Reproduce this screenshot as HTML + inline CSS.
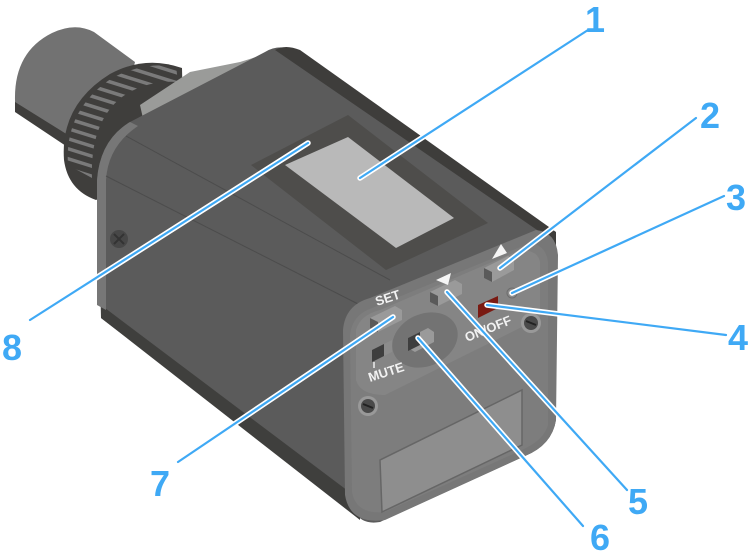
<!DOCTYPE html>
<html><head><meta charset="utf-8"><style>
html,body{margin:0;padding:0;background:#fff;width:755px;height:560px;overflow:hidden}
svg{display:block}
.n{font-family:"Liberation Sans",sans-serif;font-weight:bold;font-size:36px;fill:#3fa9f5}
.t{font-family:"Liberation Sans",sans-serif;font-weight:bold;font-size:13px;fill:#f2f2f2}
</style></head><body>
<svg width="755" height="560" viewBox="0 0 755 560" xmlns="http://www.w3.org/2000/svg">
<defs>
<clipPath id="band"><path d="M68,165 Q64,110 112,78 Q142,62 176,66 L178,82 Q146,80 122,97 Q90,122 92,178 Z"/></clipPath>
</defs>
<path d="M15,100 L15,112 L72,150 L80,130 Z" fill="#3f3e3c"/>
<path d="M15,100 Q14,52 52,33 Q75,22 94,32 L135,62 L115,142 L68,135 L15,102 Z" fill="#727272"/>
<path d="M64,160 Q60,105 110,74 Q145,55 182,68 L184,160 L96,200 Q68,190 64,160 Z" fill="#3f3e3c"/>
<g clip-path="url(#band)" stroke="#7a7a7a" stroke-width="3.5">
<line x1="40" y1="40" x2="200" y2="90"/><line x1="40" y1="50" x2="200" y2="100"/><line x1="40" y1="60" x2="200" y2="110"/>
<line x1="40" y1="70" x2="200" y2="120"/><line x1="40" y1="80" x2="200" y2="130"/><line x1="40" y1="90" x2="200" y2="140"/>
<line x1="40" y1="100" x2="200" y2="150"/><line x1="40" y1="110" x2="200" y2="160"/><line x1="40" y1="120" x2="200" y2="170"/>
<line x1="40" y1="130" x2="200" y2="180"/><line x1="40" y1="140" x2="200" y2="190"/><line x1="40" y1="150" x2="200" y2="200"/>
<line x1="40" y1="160" x2="200" y2="210"/><line x1="40" y1="30" x2="200" y2="80"/><line x1="40" y1="20" x2="200" y2="70"/>
</g>
<path d="M140,105 L190,72 L240,62 L285,48 L300,70 L150,150 Z" fill="#9a9b99"/>
<path d="M97,180 Q100,140 130,122 L265,52 Q278,44 295,50 L556,235 L556,420 Q552,445 525,456 L380,522 Q362,525 355,512 L101,318 Z" fill="#5b5b5b"/>
<path d="M275,50 Q285,44 300,50 L556,232 L556,248 L540,232 Z" fill="#3e3d3b"/>
<path d="M101,305 L360,500 L360,520 L101,318 Z" fill="#3f3f3d"/>
<path d="M97,180 Q100,140 130,122 L138,126 Q108,146 106,180 L106,310 L97,305 Z" fill="#777"/>
<line x1="106" y1="176" x2="362" y2="306" stroke="#4c4c4c" stroke-width="1"/>
<line x1="126" y1="136" x2="390" y2="280" stroke="#4c4c4c" stroke-width="1"/>
<circle cx="119" cy="239" r="9" fill="#474747"/><path d="M114,234 L124,244 M124,234 L114,244" stroke="#333" stroke-width="2"/>
<path d="M251,165 L348,115 L488,223 L386,270 Z" fill="#4e4d4b"/>
<path d="M285,165 L348,137 L454,218 L396,248 Z" fill="#b9b9b9"/>
<path d="M343,330 Q345,305 370,298 L536,230 Q556,232 558,255 L556,420 Q552,445 525,456 L385,520 Q350,525 345,495 Z" fill="#777777"/>
<path d="M350,335 Q352,315 372,308 L530,243 Q546,245 548,262 L548,425 Q544,440 522,450 L385,512 Q356,515 352,492 Z" fill="#7d7d7d"/>
<path d="M356,330 Q360,315 380,310 L520,250 Q538,250 540,262 L540,318 L385,395 Q360,395 356,380 Z" fill="#858585"/>
<ellipse cx="425" cy="340" rx="34" ry="26" transform="rotate(-25 425 340)" fill="#737373"/>
<path d="M380,460 L522,390 L522,445 L382,512 Z" fill="#8e8e8e" stroke="#666" stroke-width="1.5"/>
<circle cx="368" cy="406" r="10" fill="#999"/><circle cx="368" cy="406" r="7" fill="#4a4a4a"/><path d="M363,404 L373,408" stroke="#222" stroke-width="2"/>
<circle cx="531" cy="323" r="10" fill="#999"/><circle cx="531" cy="323" r="7" fill="#4a4a4a"/><path d="M526,321 L536,325" stroke="#222" stroke-width="2"/>
<path d="M370,318 L395,306 L402,310 L402,320 L378,332 L370,328 Z" fill="#9a9a9a"/><path d="M370,318 L378,322 L378,332 L370,328 Z" fill="#5a5a5a"/>
<path d="M430,292 L455,280 L462,284 L462,294 L438,306 L430,302 Z" fill="#9a9a9a"/><path d="M430,292 L438,296 L438,306 L430,302 Z" fill="#5a5a5a"/>
<path d="M484,268 L508,256 L514,260 L514,270 L492,282 L484,278 Z" fill="#9a9a9a"/><path d="M484,268 L492,272 L492,282 L484,278 Z" fill="#5a5a5a"/>
<path d="M408,338 L428,328 L434,332 L434,342 L415,352 L408,348 Z" fill="#9a9a9a"/><path d="M408,338 L420,332 L420,345 L408,351 Z" fill="#3e3e3e"/>
<path d="M478,305 L498,296 L498,308 L478,318 Z" fill="#7a1a12"/>
<path d="M372,350 L384,344 L384,356 L372,362 Z" fill="#3e3e3e"/><path d="M384,344 L392,340 L392,352 L384,356 Z" fill="#8c8c8c"/>
<circle cx="512" cy="293" r="5" fill="#8c8c8c" stroke="#6c6c6c"/>
<path d="M436,280 L451,273 L448,285 Z" fill="#f5f5f5"/>
<path d="M492,259 L507,253 L501,244 Z" fill="#f5f5f5"/>
<text class="t" transform="translate(377,306) rotate(-18)">SET</text>
<text class="t" transform="translate(370,382) rotate(-18)">MUTE</text>
<text class="t" transform="translate(467,342) rotate(-22)">ON/OFF</text>
<line x1="374" y1="362" x2="374" y2="368" stroke="#eee" stroke-width="1.5"/>
<g fill="none" stroke-linecap="round">
<g stroke="#fff" stroke-width="5.5">
<line x1="360" y1="178" x2="588" y2="30"/>
<line x1="308" y1="143" x2="30" y2="320"/>
<line x1="500" y1="268" x2="696" y2="118"/>
<line x1="512" y1="293" x2="724" y2="196"/>
<line x1="487" y1="305" x2="726" y2="335"/>
<line x1="447" y1="292" x2="627" y2="490"/>
<line x1="418" y1="338" x2="583" y2="526"/>
<line x1="393" y1="317" x2="178" y2="462"/>
</g>
<g stroke="#3fa9f5" stroke-width="2.2">
<line x1="360" y1="178" x2="588" y2="30"/>
<line x1="308" y1="143" x2="30" y2="320"/>
<line x1="500" y1="268" x2="696" y2="118"/>
<line x1="512" y1="293" x2="724" y2="196"/>
<line x1="487" y1="305" x2="726" y2="335"/>
<line x1="447" y1="292" x2="627" y2="490"/>
<line x1="418" y1="338" x2="583" y2="526"/>
<line x1="393" y1="317" x2="178" y2="462"/>
</g>
</g>
<text class="n" x="585" y="32">1</text>
<text class="n" x="700" y="128">2</text>
<text class="n" x="726" y="210">3</text>
<text class="n" x="728" y="350">4</text>
<text class="n" x="628" y="514">5</text>
<text class="n" x="590" y="550">6</text>
<text class="n" x="150" y="496">7</text>
<text class="n" x="2" y="360">8</text>
</svg>
</body></html>
